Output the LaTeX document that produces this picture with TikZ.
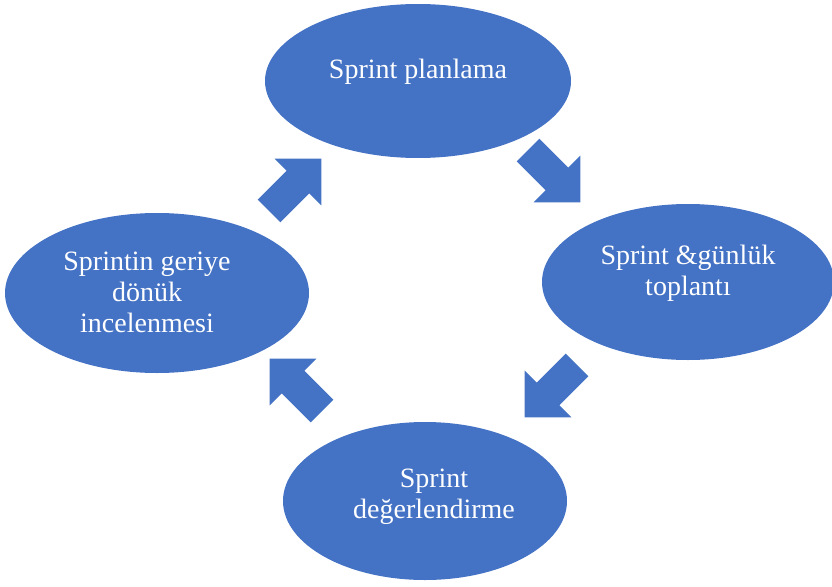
\documentclass[tikz,border=0pt]{standalone}
\usepackage{fontspec}
\setmainfont{Liberation Serif}
\definecolor{obl}{HTML}{4472C4}
\begin{document}
\begin{tikzpicture}[x=1pt,y=1pt,
  lbl/.style={text=white,font=\fontsize{28}{31}\selectfont,align=center,inner sep=0pt},
  barrow/.pic={\fill[obl] (0,-16) -- (41,-16) -- (41,-33) -- (74,0) -- (41,33) -- (41,16) -- (0,16) -- cycle;}
]
\useasboundingbox (0,0) rectangle (832,-586);
\begin{scope}
\clip (0,0) rectangle (832,-586);
\fill[obl] (418,-81) ellipse [x radius=153, y radius=77];
\fill[obl] (688,-282) ellipse [x radius=146, y radius=78];
\fill[obl] (425,-501) ellipse [x radius=142, y radius=79];
\fill[obl] (157,-293) ellipse [x radius=152, y radius=80];
\end{scope}
\coordinate (e1) at (418,-81);
\coordinate (e2) at (688,-282);
\coordinate (e3) at (425,-501);
\coordinate (e4) at (157,-293);
\node[lbl] (t1) at (418,-72) {Sprint planlama};
\node[lbl] (t2) at (688,-273) {Sprint \&günlük\\toplantı};
\node[lbl] (t3) at (434,-497) {Sprint\\değerlendirme};
\node[lbl] (t4) at (147,-292) {Sprintin geriye\\dönük\\incelenmesi};
\pic[shift={(528,-150)},rotate=-45] (a1) {barrow};
\pic[shift={(577,-365)},rotate=-135] (a2) {barrow};
\pic[shift={(322,-411)},rotate=135] (a3) {barrow};
\pic[shift={(269,-211)},rotate=45] (a4) {barrow};
\end{tikzpicture}
\end{document}
